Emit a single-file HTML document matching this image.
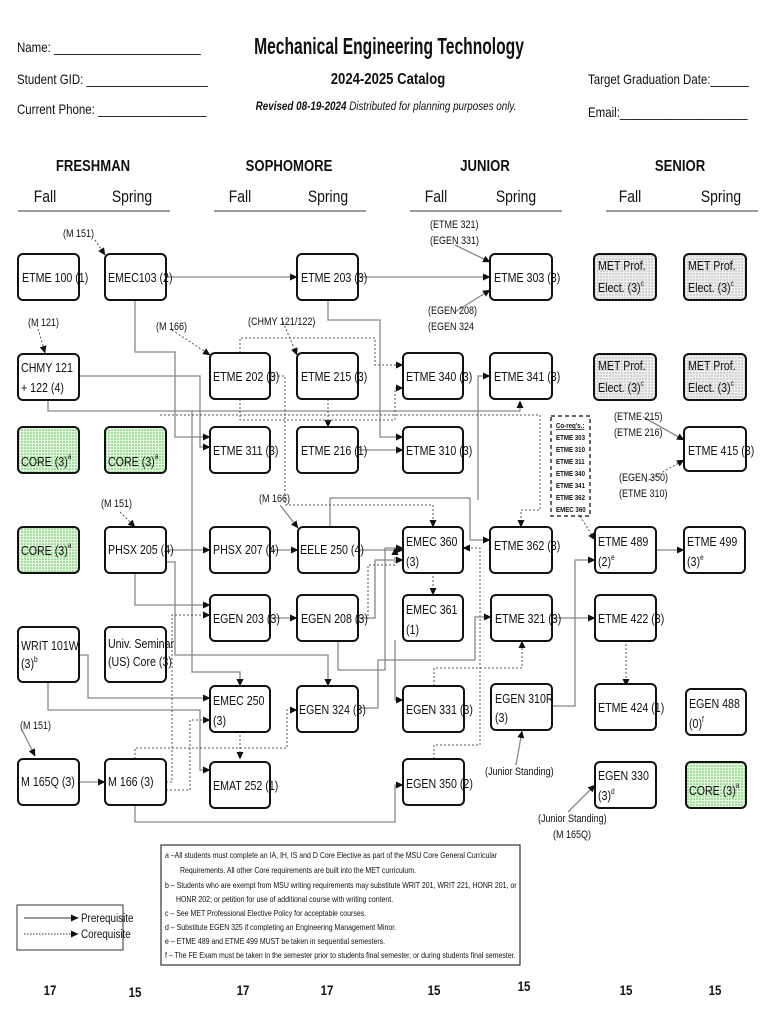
<!DOCTYPE html>
<html><head><meta charset="utf-8">
<style>
html,body{margin:0;padding:0;background:#fff;}
svg{display:block;}
text{font-family:"Liberation Sans",sans-serif;fill:#111;transform-box:fill-box;transform-origin:left center;transform:scaleX(.82);}
text.c{transform-origin:center center;}
text.t{transform:scaleX(.68);}
text.f{transform:scaleX(.84);}
</style></head>
<body>
<svg width="770" height="1024" viewBox="0 0 770 1024" xmlns="http://www.w3.org/2000/svg">
<defs>
<marker id="a" markerWidth="8" markerHeight="8" refX="7" refY="4" orient="auto" markerUnits="userSpaceOnUse"><path d="M0,0.5 L7.5,4 L0,7.5z" fill="#111"/></marker>
<pattern id="g" width="3" height="3" patternUnits="userSpaceOnUse"><rect width="3" height="3" fill="#e6f7e0"/><circle cx="1" cy="1" r="0.8" fill="#4cc24c"/></pattern>
<pattern id="gr" width="3" height="3" patternUnits="userSpaceOnUse"><rect width="3" height="3" fill="#eee"/><circle cx="1" cy="1" r="0.7" fill="#aaa"/></pattern>
</defs>
<!-- header -->
<text x="17" y="52" font-size="14">Name: _______________________</text>
<text x="17" y="84" font-size="14">Student GID: ___________________</text>
<text x="17" y="114" font-size="14">Current Phone: _________________</text>
<text class="c t" x="389" y="54" font-size="23" font-weight="bold" text-anchor="middle">Mechanical Engineering Technology</text>
<text class="c" x="388" y="84" font-size="16" font-weight="bold" text-anchor="middle">2024-2025 Catalog</text>
<text class="c" x="386" y="110" font-size="12" font-style="italic" text-anchor="middle"><tspan font-weight="bold">Revised 08-19-2024</tspan> Distributed for planning purposes only.</text>
<text x="588" y="84" font-size="14">Target Graduation Date:______</text>
<text x="588" y="117" font-size="14">Email:____________________</text>
<g font-size="16" font-weight="bold" text-anchor="middle">
<text class="c" x="93" y="171">FRESHMAN</text><text class="c" x="289" y="171">SOPHOMORE</text><text class="c" x="485" y="171">JUNIOR</text><text class="c" x="680" y="171">SENIOR</text></g>
<g font-size="17" text-anchor="middle">
<text class="c" x="45" y="202">Fall</text><text class="c" x="132" y="202">Spring</text>
<text class="c" x="240" y="202">Fall</text><text class="c" x="328" y="202">Spring</text>
<text class="c" x="436" y="202">Fall</text><text class="c" x="516" y="202">Spring</text>
<text class="c" x="630" y="202">Fall</text><text class="c" x="721" y="202">Spring</text></g>
<g stroke="#999" stroke-width="2">
<line x1="18" y1="211" x2="170" y2="211"/><line x1="214" y1="211" x2="366" y2="211"/>
<line x1="410" y1="211" x2="562" y2="211"/><line x1="606" y1="211" x2="758" y2="211"/></g>

<!-- connectors prereq -->
<g fill="none" stroke="#888" stroke-width="1.3" marker-end="url(#a)">
<path d="M166,277H297"/>
<path d="M358,277H490"/>
<path d="M135,300V352H175V437H210"/>
<path d="M79,376H200V447H210"/>
<path d="M48,400V411H520V401"/>
<path d="M328,300V320H380V437H403"/>
<path d="M358,450H403"/>
<path d="M478,500V376H490"/>
<path d="M166,550H210"/>
<path d="M270,550H298"/>
<path d="M359,550H403"/>
<path d="M135,572V605H210"/>
<path d="M166,562H175V655H328V686"/>
<path d="M192,411V672H240V686"/>
<path d="M270,618H297"/>
<path d="M338,640V670H385V548H403"/>
<path d="M330,527V498H470V540H490"/>
<path d="M358,618H375V560H403"/>
<path d="M552,618H595"/>
<path d="M552,706H575V560H595"/>
<path d="M656,550H684"/>
<path d="M79,655H88V698H210"/>
<path d="M48,682V710H200V770H210"/>
<path d="M79,782H105"/>
<path d="M135,805V822H395V785H403"/>
<path d="M358,708H378V660H395V700H403"/>
<path d="M395,640V660H475V617H491"/>
<path d="M22,730L35,756"/>
<path d="M280,505L298,528"/>
<path d="M455,245L490,262"/>
<path d="M455,312L490,290"/>
<path d="M643,417L684,440"/>
<path d="M516,765L522,731"/>
<path d="M568,812L595,785"/>
</g>
<!-- connectors coreq -->
<g fill="none" stroke="#555" stroke-width="1" stroke-dasharray="2,2" marker-end="url(#a)">
<path d="M95,240L105,255"/>
<path d="M37,325L45,353"/>
<path d="M172,330L210,355"/>
<path d="M283,322L297,355"/>
<path d="M328,399V427"/>
<path d="M240,353V338H375V365H403"/>
<path d="M270,376H285V505H433V527"/>
<path d="M240,399V420H395V388H403"/>
<path d="M433,572V595"/>
<path d="M160,415H540V510H521V527"/>
<path d="M580,516L595,540"/>
<path d="M626,640V686"/>
<path d="M120,512L135,527"/>
<path d="M434,686V668H522V641"/>
<path d="M434,759V745H480V548H463"/>
<path d="M135,759V748H287V710H297"/>
<path d="M166,790H190V720H210"/>
<path d="M166,782H172V615H210"/>
<path d="M240,731V759"/>
<path d="M358,618H368V565H395V548"/>
<path d="M645,482L684,460"/>
</g>

<!-- boxes -->
<g stroke="#111" stroke-width="2" fill="#fff">
<rect x="18" y="254" width="61" height="46" rx="5"/>
<rect x="105" y="254" width="61" height="46" rx="5"/>
<rect x="297" y="254" width="61" height="46" rx="5"/>
<rect x="490" y="254" width="62" height="46" rx="5"/>
<rect x="594" y="254" width="62" height="46" rx="5" fill="url(#gr)"/>
<rect x="684" y="254" width="62" height="46" rx="5" fill="url(#gr)"/>
<rect x="18" y="354" width="61" height="46" rx="5"/>
<rect x="210" y="353" width="60" height="46" rx="5"/>
<rect x="297" y="353" width="61" height="46" rx="5"/>
<rect x="403" y="353" width="60" height="46" rx="5"/>
<rect x="490" y="353" width="62" height="46" rx="5"/>
<rect x="594" y="354" width="62" height="46" rx="5" fill="url(#gr)"/>
<rect x="684" y="354" width="62" height="46" rx="5" fill="url(#gr)"/>
<rect x="18" y="427" width="61" height="46" rx="5" fill="url(#g)"/>
<rect x="105" y="427" width="61" height="46" rx="5" fill="url(#g)"/>
<rect x="210" y="427" width="60" height="46" rx="5"/>
<rect x="297" y="427" width="61" height="46" rx="5"/>
<rect x="403" y="427" width="60" height="46" rx="5"/>
<rect x="684" y="427" width="62" height="44" rx="5"/>
<rect x="18" y="527" width="61" height="46" rx="5" fill="url(#g)"/>
<rect x="105" y="527" width="61" height="46" rx="5"/>
<rect x="210" y="527" width="60" height="46" rx="5"/>
<rect x="298" y="527" width="61" height="46" rx="5"/>
<rect x="403" y="527" width="60" height="46" rx="5"/>
<rect x="490" y="527" width="62" height="46" rx="5"/>
<rect x="595" y="527" width="61" height="46" rx="5"/>
<rect x="684" y="527" width="61" height="46" rx="5"/>
<rect x="210" y="595" width="60" height="46" rx="5"/>
<rect x="297" y="595" width="61" height="46" rx="5"/>
<rect x="403" y="595" width="60" height="46" rx="5"/>
<rect x="491" y="595" width="61" height="46" rx="5"/>
<rect x="595" y="595" width="61" height="46" rx="5"/>
<rect x="18" y="627" width="61" height="55" rx="5"/>
<rect x="105" y="627" width="61" height="55" rx="5"/>
<rect x="210" y="686" width="60" height="46" rx="5"/>
<rect x="297" y="686" width="61" height="46" rx="5"/>
<rect x="403" y="686" width="61" height="46" rx="5"/>
<rect x="491" y="684" width="61" height="46" rx="5"/>
<rect x="595" y="684" width="61" height="46" rx="5"/>
<rect x="686" y="689" width="60" height="46" rx="5"/>
<rect x="18" y="759" width="61" height="46" rx="5"/>
<rect x="105" y="759" width="61" height="46" rx="5"/>
<rect x="210" y="762" width="60" height="46" rx="5"/>
<rect x="403" y="759" width="61" height="46" rx="5"/>
<rect x="595" y="762" width="61" height="46" rx="5"/>
<rect x="686" y="762" width="60" height="46" rx="5" fill="url(#g)"/>
</g>
<!-- box text -->
<g font-size="13">
<text x="22" y="282">ETME 100 (1)</text>
<text x="108" y="282">EMEC103 (2)</text>
<text x="301" y="282">ETME 203 (3)</text>
<text x="494" y="282">ETME 303 (3)</text>
<text x="598" y="270">MET Prof.</text><text x="598" y="292">Elect. (3)<tspan font-size="8" dy="-6">c</tspan></text>
<text x="688" y="270">MET Prof.</text><text x="688" y="292">Elect. (3)<tspan font-size="8" dy="-6">c</tspan></text>
<text x="21" y="372">CHMY 121</text><text x="21" y="392">+ 122 (4)</text>
<text x="213" y="381">ETME 202 (3)</text>
<text x="301" y="381">ETME 215 (3)</text>
<text x="406" y="381">ETME 340 (3)</text>
<text x="494" y="381">ETME 341 (3)</text>
<text x="598" y="370">MET Prof.</text><text x="598" y="392">Elect. (3)<tspan font-size="8" dy="-6">c</tspan></text>
<text x="688" y="370">MET Prof.</text><text x="688" y="392">Elect. (3)<tspan font-size="8" dy="-6">c</tspan></text>
<text x="21" y="466">CORE  (3)<tspan font-size="8" dy="-7">a</tspan></text>
<text x="108" y="466">CORE  (3)<tspan font-size="8" dy="-7">a</tspan></text>
<text x="213" y="455">ETME 311 (3)</text>
<text x="301" y="455">ETME 216 (1)</text>
<text x="406" y="455">ETME 310 (3)</text>
<text x="688" y="455">ETME 415 (3)</text>
<text x="21" y="555">CORE  (3)<tspan font-size="8" dy="-7">a</tspan></text>
<text x="108" y="554">PHSX 205 (4)</text>
<text x="213" y="554">PHSX 207 (4)</text>
<text x="300" y="554">EELE 250 (4)</text>
<text x="406" y="546">EMEC 360</text><text x="406" y="566">(3)</text>
<text x="494" y="550">ETME 362 (3)</text>
<text x="598" y="546">ETME 489</text><text x="598" y="566">(2)<tspan font-size="8" dy="-6">e</tspan></text>
<text x="687" y="546">ETME 499</text><text x="687" y="566">(3)<tspan font-size="8" dy="-6">e</tspan></text>
<text x="213" y="623">EGEN 203 (3)</text>
<text x="301" y="623">EGEN 208 (3)</text>
<text x="406" y="614">EMEC 361</text><text x="406" y="634">(1)</text>
<text x="495" y="623">ETME 321 (3)</text>
<text x="598" y="623">ETME 422 (3)</text>
<text x="21" y="650">WRIT 101W</text><text x="21" y="668">(3)<tspan font-size="8" dy="-6">b</tspan></text>
<text x="108" y="648">Univ. Seminar</text><text x="108" y="666">(US) Core (3)</text>
<text x="213" y="705">EMEC 250</text><text x="213" y="725">(3)</text>
<text x="299" y="714">EGEN 324 (3)</text>
<text x="406" y="714">EGEN 331 (3)</text>
<text x="495" y="703">EGEN 310R</text><text x="495" y="722">(3)</text>
<text x="598" y="712">ETME 424 (1)</text>
<text x="689" y="708">EGEN 488</text><text x="689" y="728">(0)<tspan font-size="8" dy="-6">f</tspan></text>
<text x="21" y="786">M 165Q (3)</text>
<text x="108" y="786">M 166 (3)</text>
<text x="213" y="790">EMAT 252 (1)</text>
<text x="406" y="788">EGEN 350 (2)</text>
<text x="598" y="780">EGEN 330</text><text x="598" y="800">(3)<tspan font-size="8" dy="-6">d</tspan></text>
<text x="689" y="795">CORE  (3)<tspan font-size="8" dy="-7">a</tspan></text>
</g>
<!-- prerequisite labels -->
<g font-size="11">
<text x="63" y="237">(M 151)</text>
<text x="28" y="326">(M 121)</text>
<text x="156" y="330">(M 166)</text>
<text x="248" y="325">(CHMY 121/122)</text>
<text x="430" y="228">(ETME 321)</text><text x="430" y="244">(EGEN 331)</text>
<text x="428" y="314">(EGEN 208)</text><text x="428" y="330">(EGEN 324</text>
<text x="614" y="420">(ETME 215)</text><text x="614" y="436">(ETME 216)</text>
<text x="619" y="481">(EGEN 350)</text><text x="619" y="497">(ETME 310)</text>
<text x="101" y="507">(M 151)</text>
<text x="259" y="502">(M 166)</text>
<text x="20" y="729">(M 151)</text>
<text x="485" y="775">(Junior Standing)</text>
<text x="538" y="822">(Junior Standing)</text><text x="553" y="838">(M 165Q)</text>
</g>
<!-- coreq box -->
<rect x="551" y="416" width="39" height="100" fill="#fff" stroke="#333" stroke-width="1.5" stroke-dasharray="4,3"/>
<g font-size="7.5" font-weight="bold">
<text x="556" y="428" text-decoration="underline">Co-req's.:</text>
<text x="556" y="440">ETME 303</text><text x="556" y="452">ETME 310</text><text x="556" y="464">ETME 311</text>
<text x="556" y="476">ETME 340</text><text x="556" y="488">ETME 341</text><text x="556" y="500">ETME 362</text><text x="556" y="512">EMEC 360</text>
</g>
<!-- legend -->
<rect x="17" y="905" width="106" height="45" fill="#fff" stroke="#333" stroke-width="1"/>
<line x1="24" y1="918" x2="78" y2="918" stroke="#999" stroke-width="2" marker-end="url(#a)"/>
<line x1="24" y1="934" x2="78" y2="934" stroke="#333" stroke-width="1" stroke-dasharray="1.5,1.5" marker-end="url(#a)"/>
<text x="81" y="922" font-size="12">Prerequisite</text>
<text x="81" y="938" font-size="12">Corequisite</text>
<!-- footnotes -->
<rect x="161" y="845" width="359" height="120" fill="#fff" stroke="#333" stroke-width="1.2"/>
<g font-size="8.3">
<text class="f" x="165" y="858">a –All students must complete an IA, IH, IS and D Core Elective as part of the MSU Core General Curricular</text>
<text class="f" x="180" y="873">Requirements.  All other Core requirements are built into the MET curriculum.</text>
<text class="f" x="165" y="888">b – Students who are exempt from MSU writing requirements may substitute WRIT 201, WRIT 221, HONR 201, or</text>
<text class="f" x="176" y="902">HONR 202; or petition for use of additional course with writing content.</text>
<text class="f" x="165" y="916">c – See MET Professional Elective Policy for acceptable courses.</text>
<text class="f" x="165" y="930">d – Substitute EGEN 325 if completing an Engineering Management Minor.</text>
<text class="f" x="165" y="944">e – ETME 489 and ETME 499 MUST be taken in sequential semesters.</text>
<text class="f" x="165" y="958">f – The FE Exam must be taken in the semester prior to students final semester, or during students final semester.</text>
</g>
<!-- totals -->
<g font-size="14" font-weight="bold" text-anchor="middle">
<text class="c" x="50" y="995">17</text><text class="c" x="135" y="997">15</text><text class="c" x="243" y="995">17</text><text class="c" x="327" y="995">17</text>
<text class="c" x="434" y="995">15</text><text class="c" x="524" y="991">15</text><text class="c" x="626" y="995">15</text><text class="c" x="715" y="995">15</text>
</g>
</svg>
</body></html>
